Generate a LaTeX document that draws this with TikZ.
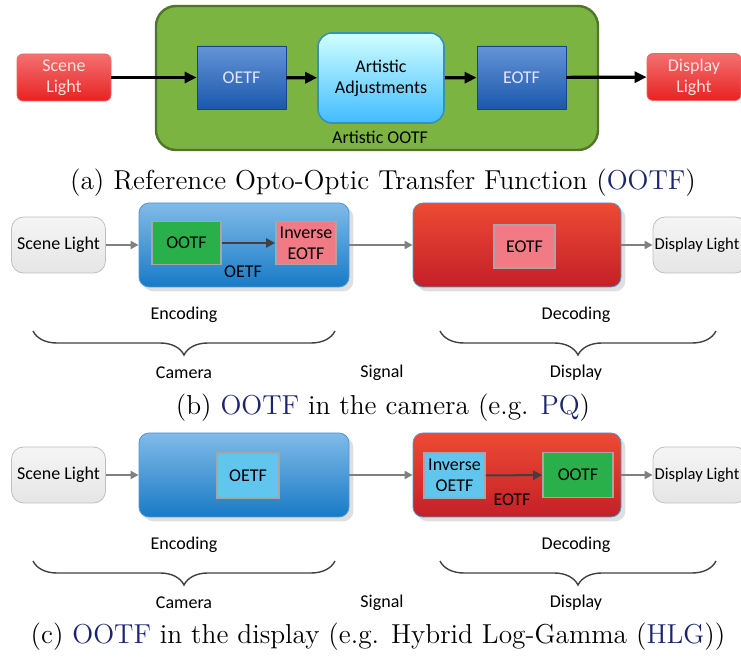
\documentclass[tikz,border=0pt]{standalone}
\usepackage{fontspec}
\setsansfont{Carlito}
\usetikzlibrary{arrows.meta,decorations.pathreplacing,shadows}

\definecolor{linkblue}{RGB}{28,36,112}
\definecolor{leafgreen}{RGB}{124,180,66}
\definecolor{leafedge}{RGB}{80,118,40}
\definecolor{okgreen}{RGB}{42,176,74}
\definecolor{pinkfill}{RGB}{242,122,132}
\definecolor{skyfill}{RGB}{96,198,238}
\definecolor{boxedge}{RGB}{166,166,166}
\definecolor{navytop}{RGB}{100,148,214}
\definecolor{navybot}{RGB}{26,88,172}
\definecolor{enctop}{RGB}{128,187,232}
\definecolor{encbot}{RGB}{24,122,198}
\definecolor{decedge}{RGB}{80,150,210}
\definecolor{dectop}{RGB}{238,74,52}
\definecolor{decmid}{RGB}{232,30,38}
\definecolor{decbot}{RGB}{196,32,40}
\definecolor{lighttop}{RGB}{244,112,112}
\definecolor{lightbot}{RGB}{232,34,34}

\begin{document}
\begin{tikzpicture}
[x=0.5pt,y=-0.5pt,
 every node/.style={font=\sffamily\fontsize{9}{10.5}\selectfont,align=center,inner sep=0pt},
 redbox/.style={draw=lightbot!70,rounded corners=3pt,top color=lighttop,bottom color=lightbot,
   text=red!12,minimum width=47pt,minimum height=23.5pt},
 navybox/.style={draw=navybot!80!black,top color=navytop,bottom color=navybot,
   text=white!90!blue,minimum width=44.5pt,minimum height=31.5pt},
 greybox/.style={draw=black!25,rounded corners=6pt,top color=black!4,bottom color=black!10,
   minimum width=47pt,minimum height=28pt},
 encbox/.style={draw=decedge,rounded corners=5pt,top color=enctop,bottom color=encbot,
   minimum width=105pt,minimum height=42pt,drop shadow={opacity=0.25}},
 decbox/.style={draw=decedge,rounded corners=5pt,top color=dectop,middle color=decmid,bottom color=decbot,
   minimum width=104pt,minimum height=42pt,drop shadow={opacity=0.25}},
 inbox/.style={draw=boxedge,line width=0.8pt,minimum height=21.5pt},
 blackarrow/.style={-{Triangle[length=6pt,width=5.5pt]},line width=1.6pt},
 greyarrow/.style={-{Triangle[length=4pt,width=4pt]},line width=1pt,draw=black!50},
 darkarrow/.style={-{Triangle[length=4.5pt,width=4.5pt]},line width=1pt,draw=black!75},
 curly/.style={decorate,decoration={brace,mirror,amplitude=12pt},line width=0.7pt,draw=black!75},
 caption/.style={font=\rmfamily\fontsize{13.7}{16}\selectfont}]
\useasboundingbox (0,0) rectangle (741,657);

% (a) reference OOTF
\node[draw=leafedge,line width=1.2pt,fill=leafgreen,rounded corners=10pt,
  minimum width=221pt,minimum height=72pt] (artootf) at (377,78) {};
\node[redbox] (scenea) at (64,77.5) {Scene\\Light};
\node[navybox] (oetfa) at (241.5,77.5) {OETF};
\node[draw=cyan!70!black,line width=0.8pt,rounded corners=7pt,top color=cyan!18,bottom color=cyan!65!blue!75,
  minimum width=63pt,minimum height=45pt] (artadj) at (381,78) {Artistic\\Adjustments};
\node[navybox] (eotfa) at (521.5,77.5) {EOTF};
\node[redbox] (displaya) at (694,77) {Display\\Light};
\node (artlabel) at (380,137) {Artistic OOTF};
\draw[blackarrow] (scenea) -- (oetfa);
\draw[blackarrow] (oetfa) -- (artadj);
\draw[blackarrow] (artadj) -- (eotfa);
\draw[blackarrow] (eotfa) -- (displaya);
\node[caption] (capa) at (383,183) {(a) Reference Opto-Optic Transfer Function (\textcolor{linkblue}{OOTF})};

% (b) OOTF in the camera
\node[greybox] (sceneb) at (58.5,245) {Scene Light};
\node[encbox] (encb) at (244,245) {};
\node[inbox,fill=okgreen,minimum width=34.5pt] (ootfb) at (186.5,243) {OOTF};
\node[inbox,fill=pinkfill,minimum width=30pt] (inveotfb) at (306,243) {Inverse\\EOTF};
\node (oetfb) at (243,272) {OETF};
\node[decbox] (decb) at (517,245) {};
\node[inbox,fill=pinkfill,minimum width=30.5pt] (eotfb) at (524.5,246.5) {EOTF};
\node[greybox] (displayb) at (700,245) {};
\node[font=\sffamily\fontsize{8.3}{10}\selectfont] (displaytxtb) at (697,245) {Display Light};
\draw[greyarrow] (sceneb) -- (encb);
\draw[darkarrow] (ootfb) -- (inveotfb);
\draw[greyarrow] (encb) -- (decb);
\draw[greyarrow] (decb) -- (displayb);
\node (encodeb) at (184,315) {Encoding};
\node (decodeb) at (576,315) {Decoding};
\coordinate (bl1) at (33,331);
\coordinate (bl2) at (335,331);
\coordinate (br1) at (440,331);
\coordinate (br2) at (716,331);
\draw[curly] (bl1) -- (bl2);
\draw[curly] (br1) -- (br2);
\node (camerab) at (184,373) {Camera};
\node (signalb) at (382,373) {Signal};
\node (displb) at (576,373) {Display};
\node[caption] (capb) at (383,408) {(b) \textcolor{linkblue}{OOTF} in the camera (e.g. \textcolor{linkblue}{PQ})};

% (c) OOTF in the display
\node[greybox] (scenec) at (58.5,475) {Scene Light};
\node[encbox] (encc) at (244,475) {};
\node[inbox,fill=skyfill,minimum width=31pt,minimum height=22.5pt] (oetfc) at (248,475.5) {OETF};
\node[decbox] (decc) at (517,475) {};
\node[inbox,fill=skyfill,minimum width=30.5pt,minimum height=22.5pt] (invoetfc) at (454.5,475.5) {Inverse\\OETF};
\node[inbox,fill=okgreen,minimum width=35pt,minimum height=22.5pt] (ootfc) at (578,475) {OOTF};
\node (eotfc) at (512,500) {EOTF};
\node[greybox] (displayc) at (700,475) {};
\node[font=\sffamily\fontsize{8.3}{10}\selectfont] (displaytxtc) at (697,475) {Display Light};
\draw[greyarrow] (scenec) -- (encc);
\draw[greyarrow] (encc) -- (decc);
\draw[darkarrow] (invoetfc) -- (ootfc);
\draw[greyarrow] (decc) -- (displayc);
\node (encodec) at (184,545) {Encoding};
\node (decodec) at (576,545) {Decoding};
\coordinate (cl1) at (33,561);
\coordinate (cl2) at (335,561);
\coordinate (cr1) at (440,561);
\coordinate (cr2) at (716,561);
\draw[curly] (cl1) -- (cl2);
\draw[curly] (cr1) -- (cr2);
\node (camerac) at (184,603) {Camera};
\node (signalc) at (382,603) {Signal};
\node (displc) at (576,603) {Display};
\node[caption] (capc) at (378,637) {(c) \textcolor{linkblue}{OOTF} in the display (e.g. Hybrid Log-Gamma (\textcolor{linkblue}{HLG}))};
\end{tikzpicture}
\end{document}
